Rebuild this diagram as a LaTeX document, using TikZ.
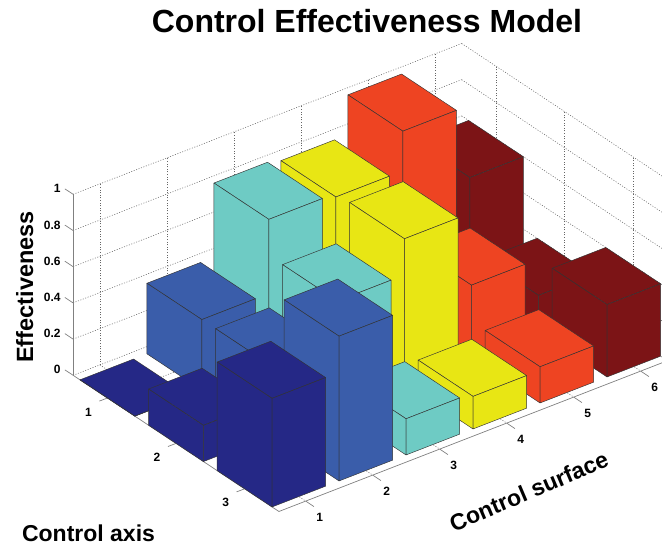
\documentclass[tikz,border=0pt]{standalone}
\usepackage{fontspec}
\setmainfont{Liberation Sans}
\definecolor{cnavy}{RGB}{37,40,134}
\definecolor{cblue}{RGB}{58,93,170}
\definecolor{ccyan}{RGB}{110,203,196}
\definecolor{cyell}{RGB}{232,230,20}
\definecolor{corng}{RGB}{238,68,34}
\definecolor{cdred}{RGB}{124,20,22}
\tikzset{
  barstyle/.style={draw=black!80, line width=0.45pt, line join=round},
  gridline/.style={draw=black!60, line width=0.55pt, dash pattern=on 1pt off 1.6pt},
  axisline/.style={draw=black!50, line width=0.7pt},
  ticklab/.style={font=\fontsize{12}{12}\selectfont\bfseries, inner sep=0pt},
  axlab/.style={font=\fontsize{23}{26}\selectfont\bfseries, inner sep=0pt},
}
\newcommand\drawbarbox[4]{%
  \filldraw[barstyle, fill=#4] ({#1-0.4},{#2-0.4},#3) -- ({#1+0.4},{#2-0.4},#3) -- ({#1+0.4},{#2+0.4},#3) -- ({#1-0.4},{#2+0.4},#3) -- cycle;
  \filldraw[barstyle, fill=#4] ({#1-0.4},{#2-0.4},0) -- ({#1-0.4},{#2+0.4},0) -- ({#1-0.4},{#2+0.4},#3) -- ({#1-0.4},{#2-0.4},#3) -- cycle;
  \filldraw[barstyle, fill=#4] ({#1-0.4},{#2+0.4},0) -- ({#1+0.4},{#2+0.4},0) -- ({#1+0.4},{#2+0.4},#3) -- ({#1-0.4},{#2+0.4},#3) -- cycle;
}
\begin{document}
\begin{tikzpicture}
\useasboundingbox (0pt,0pt) rectangle (662pt,546pt);
\begin{scope}[shift={(-1.4pt,177.8pt)}, x={(67pt,26pt)}, y={(68.6pt,-45.4pt)}, z={(0pt,181pt)}]
  % grid: back-left wall
  \foreach \z in {0,0.2,0.4,0.6,0.8,1} \draw[gridline] (0.6,0.5,\z) -- (6.4,0.5,\z);
  \foreach \u in {1,...,6} \draw[gridline] (\u,0.5,0) -- (\u,0.5,1);
  % grid: back-right wall
  \foreach \z in {0,0.2,0.4,0.6,0.8,1} \draw[gridline] (6.4,0.5,\z) -- (6.4,3.5,\z);
  \foreach \v in {1,2,3} \draw[gridline] (6.4,\v,0) -- (6.4,\v,1);
  % grid: floor
  \foreach \u in {1,...,6} \draw[gridline] (\u,0.5,0) -- (\u,3.5,0);
  \foreach \v in {1,2,3} \draw[gridline] (0.6,\v,0) -- (6.4,\v,0);
  % axes
  \coordinate (O) at (0.6,0.5,0);
  \coordinate (Ztop) at (0.6,0.5,1);
  \coordinate (Rend) at (0.6,3.5,0);
  \coordinate (Cend) at (6.4,3.5,0);
  \draw[axisline] (O) -- (Ztop);
  \draw[axisline] (O) -- (Rend) -- (Cend);
  \foreach \z/\t in {0/0,0.2/0.2,0.4/0.4,0.6/0.6,0.8/0.8,1/1}{
    \draw[axisline] (0.6,0.5,\z) -- (0.6,0.38,\z);
    \node[ticklab, anchor=east, xshift=-4pt] at (0.6,0.38,\z) {\t};
  }
  \foreach \v in {1,2,3}{
    \draw[axisline] (0.6,\v,0) -- (0.48,\v,0);
    \node[ticklab, xshift=-19pt, yshift=-14pt] at (0.6,\v,0) {\v};
  }
  \foreach \u in {1,...,6}{
    \draw[axisline] (\u,3.5,0) -- (\u,3.62,0);
    \node[ticklab, xshift=14pt, yshift=-16.5pt] at (\u,3.5,0) {\u};
  }
  % bars, back to front
  \foreach \u/\ha/\hb/\hc/\col in {6/0.6/0.2/0.4/cdred, 5/1.0/0.4/0.2/corng, 4/0.78/0.8/0.18/cyell, 3/0.8/0.6/0.2/ccyan, 2/0.39/0.39/0.8/cblue, 1/0/0.2/0.6/cnavy}{
    \drawbarbox{\u}{1}{\ha}{\col}
    \drawbarbox{\u}{2}{\hb}{\col}
    \drawbarbox{\u}{3}{\hc}{\col}
  }
\end{scope}
\node[font=\fontsize{32}{36}\selectfont\bfseries, anchor=base, inner sep=0pt] (title) at (367pt,513pt) {Control Effectiveness Model};
\node[axlab, rotate=90, anchor=base, font=\fontsize{23.5}{26}\selectfont\bfseries] (zlab) at (33pt,259pt) {Effectiveness};
\node[axlab, anchor=base] (rlab) at (88.5pt,4pt) {Control axis};
\node[axlab, anchor=base, rotate=23] (clab) at (532pt,47pt) {Control surface};
\end{tikzpicture}
\end{document}
